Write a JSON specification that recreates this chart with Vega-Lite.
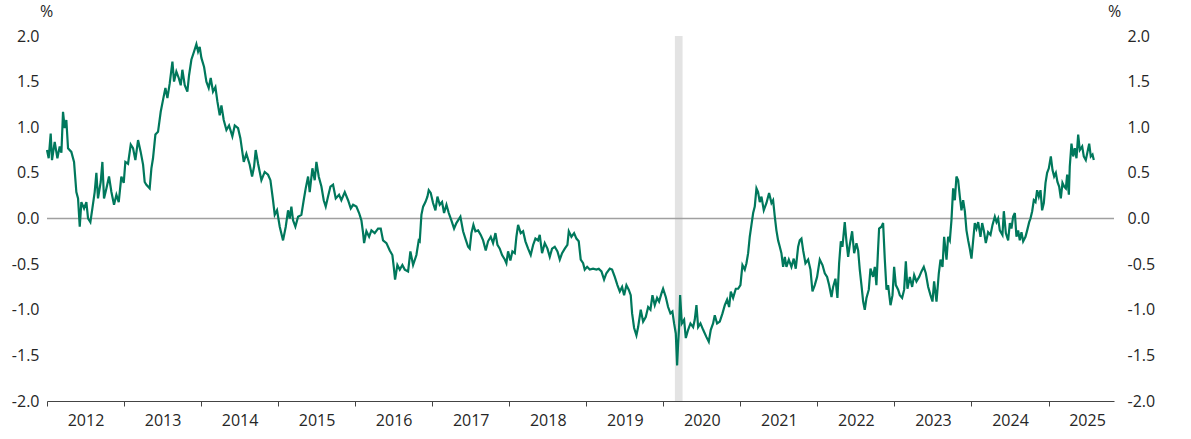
{
  "$schema": "https://vega.github.io/schema/vega-lite/v6.json",
  "description": "Spread series (%), 2012-2025, with shaded band in early 2020.",
  "autosize": "none",
  "width": 1067,
  "height": 365,
  "padding": {"left": 47, "top": 36, "right": 77, "bottom": 38},
  "background": "white",
  "datasets": {
    "band": [{"start": 2020.15, "end": 2020.25}],
    "series": [
      {"t": 2012.000, "v": 0.75}, {"t": 2012.022, "v": 0.66}, {"t": 2012.048, "v": 0.93}, {"t": 2012.065, "v": 0.64},
      {"t": 2012.100, "v": 0.84}, {"t": 2012.135, "v": 0.66}, {"t": 2012.165, "v": 0.79}, {"t": 2012.187, "v": 0.72},
      {"t": 2012.208, "v": 1.17}, {"t": 2012.230, "v": 0.99}, {"t": 2012.251, "v": 1.08}, {"t": 2012.273, "v": 0.77},
      {"t": 2012.316, "v": 0.73}, {"t": 2012.351, "v": 0.62}, {"t": 2012.381, "v": 0.29}, {"t": 2012.403, "v": 0.22},
      {"t": 2012.425, "v": -0.09}, {"t": 2012.446, "v": 0.18}, {"t": 2012.481, "v": 0.11}, {"t": 2012.511, "v": 0.18},
      {"t": 2012.533, "v": 0.00}, {"t": 2012.563, "v": -0.04}, {"t": 2012.589, "v": 0.11}, {"t": 2012.619, "v": 0.29},
      {"t": 2012.641, "v": 0.50}, {"t": 2012.662, "v": 0.22}, {"t": 2012.697, "v": 0.40}, {"t": 2012.719, "v": 0.62},
      {"t": 2012.740, "v": 0.22}, {"t": 2012.771, "v": 0.33}, {"t": 2012.805, "v": 0.46}, {"t": 2012.836, "v": 0.29},
      {"t": 2012.870, "v": 0.15}, {"t": 2012.901, "v": 0.26}, {"t": 2012.931, "v": 0.18}, {"t": 2012.965, "v": 0.46},
      {"t": 2012.996, "v": 0.39}, {"t": 2013.017, "v": 0.62}, {"t": 2013.052, "v": 0.60}, {"t": 2013.087, "v": 0.81},
      {"t": 2013.117, "v": 0.77}, {"t": 2013.147, "v": 0.64}, {"t": 2013.182, "v": 0.86}, {"t": 2013.216, "v": 0.73},
      {"t": 2013.247, "v": 0.59}, {"t": 2013.268, "v": 0.40}, {"t": 2013.290, "v": 0.37}, {"t": 2013.333, "v": 0.33},
      {"t": 2013.355, "v": 0.55}, {"t": 2013.376, "v": 0.66}, {"t": 2013.407, "v": 0.92}, {"t": 2013.441, "v": 0.95},
      {"t": 2013.476, "v": 1.17}, {"t": 2013.506, "v": 1.30}, {"t": 2013.537, "v": 1.43}, {"t": 2013.563, "v": 1.32},
      {"t": 2013.593, "v": 1.48}, {"t": 2013.628, "v": 1.72}, {"t": 2013.649, "v": 1.50}, {"t": 2013.679, "v": 1.61},
      {"t": 2013.710, "v": 1.54}, {"t": 2013.736, "v": 1.46}, {"t": 2013.757, "v": 1.63}, {"t": 2013.788, "v": 1.46},
      {"t": 2013.822, "v": 1.39}, {"t": 2013.844, "v": 1.57}, {"t": 2013.874, "v": 1.74}, {"t": 2013.909, "v": 1.83},
      {"t": 2013.939, "v": 1.91}, {"t": 2013.961, "v": 1.83}, {"t": 2013.982, "v": 1.88}, {"t": 2014.004, "v": 1.76},
      {"t": 2014.039, "v": 1.66}, {"t": 2014.069, "v": 1.50}, {"t": 2014.099, "v": 1.43}, {"t": 2014.125, "v": 1.54},
      {"t": 2014.155, "v": 1.39}, {"t": 2014.186, "v": 1.44}, {"t": 2014.212, "v": 1.28}, {"t": 2014.242, "v": 1.13},
      {"t": 2014.264, "v": 1.24}, {"t": 2014.294, "v": 1.08}, {"t": 2014.329, "v": 0.97}, {"t": 2014.363, "v": 1.02},
      {"t": 2014.406, "v": 0.90}, {"t": 2014.437, "v": 1.02}, {"t": 2014.480, "v": 0.99}, {"t": 2014.510, "v": 0.88},
      {"t": 2014.554, "v": 0.62}, {"t": 2014.588, "v": 0.71}, {"t": 2014.631, "v": 0.59}, {"t": 2014.662, "v": 0.46},
      {"t": 2014.688, "v": 0.57}, {"t": 2014.709, "v": 0.75}, {"t": 2014.740, "v": 0.60}, {"t": 2014.783, "v": 0.42},
      {"t": 2014.826, "v": 0.51}, {"t": 2014.869, "v": 0.48}, {"t": 2014.900, "v": 0.42}, {"t": 2014.934, "v": 0.20},
      {"t": 2014.956, "v": 0.04}, {"t": 2014.986, "v": 0.09}, {"t": 2015.021, "v": -0.09}, {"t": 2015.064, "v": -0.24},
      {"t": 2015.099, "v": -0.09}, {"t": 2015.129, "v": 0.09}, {"t": 2015.151, "v": 0.00}, {"t": 2015.172, "v": 0.13},
      {"t": 2015.194, "v": -0.02}, {"t": 2015.224, "v": -0.09}, {"t": 2015.259, "v": 0.02}, {"t": 2015.302, "v": 0.04},
      {"t": 2015.332, "v": 0.20}, {"t": 2015.358, "v": 0.33}, {"t": 2015.389, "v": 0.46}, {"t": 2015.410, "v": 0.29},
      {"t": 2015.445, "v": 0.55}, {"t": 2015.475, "v": 0.42}, {"t": 2015.497, "v": 0.62}, {"t": 2015.527, "v": 0.46},
      {"t": 2015.562, "v": 0.35}, {"t": 2015.592, "v": 0.20}, {"t": 2015.618, "v": 0.13}, {"t": 2015.648, "v": 0.24},
      {"t": 2015.679, "v": 0.35}, {"t": 2015.713, "v": 0.37}, {"t": 2015.748, "v": 0.22}, {"t": 2015.791, "v": 0.26},
      {"t": 2015.821, "v": 0.20}, {"t": 2015.865, "v": 0.29}, {"t": 2015.908, "v": 0.20}, {"t": 2015.943, "v": 0.11},
      {"t": 2015.973, "v": 0.15}, {"t": 2016.016, "v": 0.13}, {"t": 2016.051, "v": 0.06}, {"t": 2016.081, "v": -0.02},
      {"t": 2016.103, "v": -0.16}, {"t": 2016.116, "v": -0.27}, {"t": 2016.146, "v": -0.14}, {"t": 2016.181, "v": -0.20},
      {"t": 2016.211, "v": -0.13}, {"t": 2016.254, "v": -0.16}, {"t": 2016.297, "v": -0.11}, {"t": 2016.332, "v": -0.11},
      {"t": 2016.362, "v": -0.24}, {"t": 2016.406, "v": -0.27}, {"t": 2016.449, "v": -0.35}, {"t": 2016.483, "v": -0.40},
      {"t": 2016.501, "v": -0.53}, {"t": 2016.518, "v": -0.67}, {"t": 2016.548, "v": -0.51}, {"t": 2016.579, "v": -0.56},
      {"t": 2016.613, "v": -0.51}, {"t": 2016.644, "v": -0.56}, {"t": 2016.687, "v": -0.58}, {"t": 2016.717, "v": -0.36},
      {"t": 2016.752, "v": -0.51}, {"t": 2016.795, "v": -0.40}, {"t": 2016.825, "v": -0.24}, {"t": 2016.838, "v": -0.25},
      {"t": 2016.860, "v": 0.04}, {"t": 2016.882, "v": 0.13}, {"t": 2016.912, "v": 0.18}, {"t": 2016.938, "v": 0.24},
      {"t": 2016.955, "v": 0.31}, {"t": 2016.981, "v": 0.28}, {"t": 2017.011, "v": 0.17}, {"t": 2017.042, "v": 0.09},
      {"t": 2017.068, "v": 0.24}, {"t": 2017.098, "v": 0.15}, {"t": 2017.128, "v": 0.18}, {"t": 2017.154, "v": 0.06},
      {"t": 2017.185, "v": 0.15}, {"t": 2017.215, "v": 0.06}, {"t": 2017.249, "v": -0.02}, {"t": 2017.284, "v": -0.11},
      {"t": 2017.314, "v": -0.05}, {"t": 2017.336, "v": -0.02}, {"t": 2017.366, "v": 0.02}, {"t": 2017.401, "v": -0.14},
      {"t": 2017.431, "v": -0.22}, {"t": 2017.466, "v": -0.31}, {"t": 2017.487, "v": -0.33}, {"t": 2017.509, "v": -0.16},
      {"t": 2017.535, "v": -0.07}, {"t": 2017.561, "v": -0.14}, {"t": 2017.596, "v": -0.13}, {"t": 2017.630, "v": -0.18},
      {"t": 2017.661, "v": -0.24}, {"t": 2017.695, "v": -0.35}, {"t": 2017.725, "v": -0.25}, {"t": 2017.760, "v": -0.20},
      {"t": 2017.790, "v": -0.27}, {"t": 2017.821, "v": -0.16}, {"t": 2017.847, "v": -0.29}, {"t": 2017.877, "v": -0.33},
      {"t": 2017.907, "v": -0.40}, {"t": 2017.942, "v": -0.45}, {"t": 2017.963, "v": -0.49}, {"t": 2017.985, "v": -0.36},
      {"t": 2018.015, "v": -0.46}, {"t": 2018.041, "v": -0.36}, {"t": 2018.072, "v": -0.38}, {"t": 2018.093, "v": -0.20},
      {"t": 2018.115, "v": -0.07}, {"t": 2018.149, "v": -0.16}, {"t": 2018.180, "v": -0.14}, {"t": 2018.210, "v": -0.25},
      {"t": 2018.245, "v": -0.33}, {"t": 2018.279, "v": -0.40}, {"t": 2018.310, "v": -0.29}, {"t": 2018.340, "v": -0.22},
      {"t": 2018.374, "v": -0.24}, {"t": 2018.396, "v": -0.18}, {"t": 2018.426, "v": -0.38}, {"t": 2018.461, "v": -0.27},
      {"t": 2018.496, "v": -0.33}, {"t": 2018.526, "v": -0.42}, {"t": 2018.556, "v": -0.33}, {"t": 2018.591, "v": -0.31},
      {"t": 2018.626, "v": -0.36}, {"t": 2018.656, "v": -0.45}, {"t": 2018.686, "v": -0.38}, {"t": 2018.721, "v": -0.33},
      {"t": 2018.755, "v": -0.29}, {"t": 2018.773, "v": -0.14}, {"t": 2018.807, "v": -0.20}, {"t": 2018.842, "v": -0.16},
      {"t": 2018.872, "v": -0.22}, {"t": 2018.902, "v": -0.25}, {"t": 2018.928, "v": -0.45}, {"t": 2018.959, "v": -0.49},
      {"t": 2018.980, "v": -0.56}, {"t": 2019.011, "v": -0.53}, {"t": 2019.045, "v": -0.56}, {"t": 2019.088, "v": -0.55},
      {"t": 2019.132, "v": -0.56}, {"t": 2019.162, "v": -0.55}, {"t": 2019.197, "v": -0.58}, {"t": 2019.231, "v": -0.67},
      {"t": 2019.261, "v": -0.60}, {"t": 2019.305, "v": -0.55}, {"t": 2019.335, "v": -0.56}, {"t": 2019.370, "v": -0.64},
      {"t": 2019.404, "v": -0.73}, {"t": 2019.435, "v": -0.80}, {"t": 2019.465, "v": -0.75}, {"t": 2019.491, "v": -0.84},
      {"t": 2019.521, "v": -0.73}, {"t": 2019.551, "v": -0.78}, {"t": 2019.577, "v": -0.84}, {"t": 2019.595, "v": -1.04},
      {"t": 2019.621, "v": -1.20}, {"t": 2019.651, "v": -1.28}, {"t": 2019.673, "v": -1.19}, {"t": 2019.707, "v": -1.00},
      {"t": 2019.738, "v": -1.13}, {"t": 2019.772, "v": -1.08}, {"t": 2019.803, "v": -0.97}, {"t": 2019.833, "v": -1.00},
      {"t": 2019.859, "v": -0.84}, {"t": 2019.889, "v": -0.95}, {"t": 2019.919, "v": -0.87}, {"t": 2019.945, "v": -0.91},
      {"t": 2019.976, "v": -0.82}, {"t": 2019.997, "v": -0.77}, {"t": 2020.032, "v": -0.86}, {"t": 2020.062, "v": -0.97},
      {"t": 2020.092, "v": -1.04}, {"t": 2020.118, "v": -1.02}, {"t": 2020.140, "v": -1.15}, {"t": 2020.162, "v": -1.26},
      {"t": 2020.179, "v": -1.61}, {"t": 2020.192, "v": -1.37}, {"t": 2020.205, "v": -1.19}, {"t": 2020.218, "v": -0.84},
      {"t": 2020.240, "v": -1.15}, {"t": 2020.270, "v": -1.11}, {"t": 2020.292, "v": -1.31}, {"t": 2020.322, "v": -1.22},
      {"t": 2020.352, "v": -1.15}, {"t": 2020.387, "v": -1.19}, {"t": 2020.408, "v": -1.11}, {"t": 2020.430, "v": -0.95},
      {"t": 2020.452, "v": -1.19}, {"t": 2020.482, "v": -1.15}, {"t": 2020.517, "v": -1.22}, {"t": 2020.560, "v": -1.30},
      {"t": 2020.590, "v": -1.35}, {"t": 2020.616, "v": -1.22}, {"t": 2020.646, "v": -1.15}, {"t": 2020.668, "v": -1.06},
      {"t": 2020.698, "v": -1.15}, {"t": 2020.733, "v": -1.13}, {"t": 2020.768, "v": -1.04}, {"t": 2020.798, "v": -0.95},
      {"t": 2020.828, "v": -0.89}, {"t": 2020.854, "v": -0.97}, {"t": 2020.876, "v": -0.80}, {"t": 2020.906, "v": -0.87},
      {"t": 2020.941, "v": -0.77}, {"t": 2020.971, "v": -0.77}, {"t": 2021.001, "v": -0.73}, {"t": 2021.027, "v": -0.51},
      {"t": 2021.057, "v": -0.56}, {"t": 2021.079, "v": -0.49}, {"t": 2021.101, "v": -0.38}, {"t": 2021.122, "v": -0.20},
      {"t": 2021.144, "v": -0.07}, {"t": 2021.166, "v": 0.06}, {"t": 2021.187, "v": 0.13}, {"t": 2021.209, "v": 0.33},
      {"t": 2021.230, "v": 0.29}, {"t": 2021.252, "v": 0.18}, {"t": 2021.274, "v": 0.24}, {"t": 2021.304, "v": 0.09},
      {"t": 2021.339, "v": 0.17}, {"t": 2021.373, "v": 0.28}, {"t": 2021.404, "v": 0.17}, {"t": 2021.425, "v": 0.20},
      {"t": 2021.447, "v": 0.02}, {"t": 2021.468, "v": -0.13}, {"t": 2021.490, "v": -0.24}, {"t": 2021.512, "v": -0.31},
      {"t": 2021.533, "v": -0.38}, {"t": 2021.555, "v": -0.53}, {"t": 2021.577, "v": -0.42}, {"t": 2021.598, "v": -0.53},
      {"t": 2021.629, "v": -0.45}, {"t": 2021.663, "v": -0.53}, {"t": 2021.693, "v": -0.44}, {"t": 2021.719, "v": -0.55},
      {"t": 2021.750, "v": -0.31}, {"t": 2021.771, "v": -0.24}, {"t": 2021.793, "v": -0.22}, {"t": 2021.815, "v": -0.35},
      {"t": 2021.845, "v": -0.49}, {"t": 2021.880, "v": -0.45}, {"t": 2021.910, "v": -0.56}, {"t": 2021.936, "v": -0.80},
      {"t": 2021.966, "v": -0.73}, {"t": 2021.996, "v": -0.64}, {"t": 2022.031, "v": -0.45}, {"t": 2022.066, "v": -0.51},
      {"t": 2022.096, "v": -0.60}, {"t": 2022.126, "v": -0.64}, {"t": 2022.152, "v": -0.73}, {"t": 2022.183, "v": -0.86},
      {"t": 2022.204, "v": -0.75}, {"t": 2022.234, "v": -0.66}, {"t": 2022.260, "v": -0.87}, {"t": 2022.282, "v": -0.49},
      {"t": 2022.304, "v": -0.25}, {"t": 2022.325, "v": -0.31}, {"t": 2022.355, "v": -0.04}, {"t": 2022.377, "v": -0.25},
      {"t": 2022.399, "v": -0.42}, {"t": 2022.420, "v": -0.29}, {"t": 2022.451, "v": -0.14}, {"t": 2022.477, "v": -0.38},
      {"t": 2022.507, "v": -0.27}, {"t": 2022.529, "v": -0.35}, {"t": 2022.550, "v": -0.56}, {"t": 2022.572, "v": -0.73},
      {"t": 2022.594, "v": -0.91}, {"t": 2022.615, "v": -1.00}, {"t": 2022.637, "v": -0.87}, {"t": 2022.667, "v": -0.78},
      {"t": 2022.689, "v": -0.55}, {"t": 2022.723, "v": -0.64}, {"t": 2022.745, "v": -0.53}, {"t": 2022.766, "v": -0.73},
      {"t": 2022.788, "v": -0.33}, {"t": 2022.801, "v": -0.11}, {"t": 2022.832, "v": -0.09}, {"t": 2022.853, "v": -0.05},
      {"t": 2022.875, "v": -0.45}, {"t": 2022.897, "v": -0.78}, {"t": 2022.918, "v": -0.73}, {"t": 2022.949, "v": -0.95},
      {"t": 2022.975, "v": -0.84}, {"t": 2022.996, "v": -0.53}, {"t": 2023.018, "v": -0.73}, {"t": 2023.048, "v": -0.78},
      {"t": 2023.070, "v": -0.84}, {"t": 2023.100, "v": -0.87}, {"t": 2023.126, "v": -0.78}, {"t": 2023.148, "v": -0.47},
      {"t": 2023.169, "v": -0.77}, {"t": 2023.200, "v": -0.64}, {"t": 2023.230, "v": -0.75}, {"t": 2023.256, "v": -0.62},
      {"t": 2023.286, "v": -0.69}, {"t": 2023.321, "v": -0.64}, {"t": 2023.351, "v": -0.58}, {"t": 2023.381, "v": -0.53},
      {"t": 2023.407, "v": -0.60}, {"t": 2023.438, "v": -0.75}, {"t": 2023.468, "v": -0.84}, {"t": 2023.494, "v": -0.91},
      {"t": 2023.515, "v": -0.69}, {"t": 2023.546, "v": -0.91}, {"t": 2023.576, "v": -0.60}, {"t": 2023.598, "v": -0.45},
      {"t": 2023.624, "v": -0.53}, {"t": 2023.645, "v": -0.20}, {"t": 2023.676, "v": -0.45}, {"t": 2023.697, "v": -0.20},
      {"t": 2023.719, "v": -0.24}, {"t": 2023.740, "v": -0.02}, {"t": 2023.762, "v": 0.33}, {"t": 2023.784, "v": 0.20},
      {"t": 2023.805, "v": 0.46}, {"t": 2023.827, "v": 0.42}, {"t": 2023.849, "v": 0.24}, {"t": 2023.870, "v": 0.09},
      {"t": 2023.892, "v": 0.20}, {"t": 2023.914, "v": 0.08}, {"t": 2023.935, "v": -0.13}, {"t": 2023.957, "v": -0.24},
      {"t": 2023.978, "v": -0.33}, {"t": 2024.000, "v": -0.44}, {"t": 2024.022, "v": -0.24}, {"t": 2024.043, "v": -0.05},
      {"t": 2024.065, "v": -0.11}, {"t": 2024.087, "v": -0.04}, {"t": 2024.117, "v": -0.20}, {"t": 2024.139, "v": -0.05},
      {"t": 2024.160, "v": -0.13}, {"t": 2024.186, "v": -0.27}, {"t": 2024.216, "v": -0.15}, {"t": 2024.247, "v": -0.18},
      {"t": 2024.273, "v": -0.07}, {"t": 2024.303, "v": 0.02}, {"t": 2024.325, "v": -0.04}, {"t": 2024.346, "v": 0.00},
      {"t": 2024.368, "v": -0.13}, {"t": 2024.402, "v": -0.18}, {"t": 2024.420, "v": 0.08}, {"t": 2024.446, "v": -0.16},
      {"t": 2024.476, "v": -0.24}, {"t": 2024.498, "v": -0.05}, {"t": 2024.519, "v": -0.11}, {"t": 2024.541, "v": 0.02},
      {"t": 2024.563, "v": 0.06}, {"t": 2024.584, "v": -0.20}, {"t": 2024.606, "v": -0.13}, {"t": 2024.627, "v": -0.24},
      {"t": 2024.649, "v": -0.15}, {"t": 2024.671, "v": -0.25}, {"t": 2024.701, "v": -0.20}, {"t": 2024.723, "v": -0.13},
      {"t": 2024.749, "v": -0.04}, {"t": 2024.766, "v": 0.00}, {"t": 2024.788, "v": 0.08}, {"t": 2024.809, "v": 0.20},
      {"t": 2024.831, "v": 0.18}, {"t": 2024.852, "v": 0.31}, {"t": 2024.874, "v": 0.24}, {"t": 2024.896, "v": 0.31},
      {"t": 2024.917, "v": 0.09}, {"t": 2024.939, "v": 0.17}, {"t": 2024.961, "v": 0.39}, {"t": 2024.982, "v": 0.50},
      {"t": 2025.004, "v": 0.55}, {"t": 2025.030, "v": 0.68}, {"t": 2025.052, "v": 0.53}, {"t": 2025.073, "v": 0.46},
      {"t": 2025.095, "v": 0.50}, {"t": 2025.116, "v": 0.40}, {"t": 2025.138, "v": 0.35}, {"t": 2025.160, "v": 0.22},
      {"t": 2025.181, "v": 0.39}, {"t": 2025.203, "v": 0.35}, {"t": 2025.225, "v": 0.33}, {"t": 2025.242, "v": 0.48},
      {"t": 2025.264, "v": 0.26}, {"t": 2025.276, "v": 0.57}, {"t": 2025.298, "v": 0.82}, {"t": 2025.320, "v": 0.68},
      {"t": 2025.341, "v": 0.77}, {"t": 2025.363, "v": 0.66}, {"t": 2025.385, "v": 0.92}, {"t": 2025.406, "v": 0.75},
      {"t": 2025.437, "v": 0.79}, {"t": 2025.458, "v": 0.68}, {"t": 2025.484, "v": 0.64}, {"t": 2025.506, "v": 0.73},
      {"t": 2025.528, "v": 0.82}, {"t": 2025.549, "v": 0.68}, {"t": 2025.571, "v": 0.70}, {"t": 2025.588, "v": 0.64}
    ]
  },
  "layer": [
    {
      "data": {"name": "band"},
      "mark": {"type": "rect", "color": "#e3e3e3"},
      "encoding": {
        "x": {
          "field": "start",
          "type": "quantitative",
          "scale": {"domain": [2012, 2025.85], "nice": false, "zero": false},
          "axis": {
            "values": [2012, 2013, 2014, 2015, 2016, 2017, 2018, 2019, 2020, 2021, 2022, 2023, 2024, 2025],
            "format": "d",
            "labelOffset": 38.5,
            "labelPadding": 6,
            "tickSize": 5,
            "title": null
          }
        },
        "x2": {"field": "end"}
      }
    },
    {
      "data": {"values": [{}]},
      "mark": {"type": "rule", "color": "#a0a0a0", "strokeWidth": 1.5},
      "encoding": {
        "y": {
          "datum": 0,
          "type": "quantitative",
          "scale": {"domain": [-2, 2], "nice": false, "zero": false},
          "axis": {
            "orient": "right",
            "values": [-2, -1.5, -1, -0.5, 0, 0.5, 1, 1.5, 2],
            "labelExpr": "datum.value < 0 ? '-' + format(-datum.value, '.1f') : format(datum.value, '.1f')",
            "labelPadding": 13,
            "labelAlign": "left",
            "title": "%",
            "titleAngle": 0,
            "titleX": 0,
            "titleY": -20,
            "titleAlign": "center",
            "titleBaseline": "alphabetic"
          }
        }
      }
    },
    {
      "data": {"name": "series"},
      "mark": {"type": "line", "color": "#00785c", "strokeWidth": 2.2, "interpolate": "linear"},
      "encoding": {
        "x": {
          "field": "t",
          "type": "quantitative",
          "scale": {"domain": [2012, 2025.85], "nice": false, "zero": false},
          "axis": {
            "values": [2012, 2013, 2014, 2015, 2016, 2017, 2018, 2019, 2020, 2021, 2022, 2023, 2024, 2025],
            "format": "d",
            "labelOffset": 38.5,
            "labelPadding": 6,
            "tickSize": 5,
            "title": null
          }
        },
        "y": {
          "field": "v",
          "type": "quantitative",
          "scale": {"domain": [-2, 2], "nice": false, "zero": false},
          "axis": {
            "orient": "left",
            "values": [-2, -1.5, -1, -0.5, 0, 0.5, 1, 1.5, 2],
            "labelExpr": "datum.value < 0 ? '-' + format(-datum.value, '.1f') : format(datum.value, '.1f')",
            "labelPadding": 8,
            "title": "%",
            "titleAngle": 0,
            "titleX": -1,
            "titleY": -20,
            "titleAlign": "center",
            "titleBaseline": "alphabetic"
          }
        }
      }
    }
  ],
  "resolve": {"axis": {"y": "independent"}},
  "config": {
    "font": "Open Sans",
    "view": {"stroke": null},
    "axis": {
      "grid": false,
      "labelFont": "Open Sans",
      "labelFontSize": 16,
      "labelColor": "#262626",
      "labelFlush": false,
      "labelOverlap": false,
      "labelBound": false,
      "titleFont": "Open Sans",
      "titleFontSize": 16,
      "titleFontWeight": "normal",
      "titleColor": "#262626",
      "domainColor": "#444444",
      "tickColor": "#444444",
      "domainWidth": 1,
      "tickWidth": 1
    },
    "axisY": {
      "domain": false,
      "ticks": false
    }
  }
}
